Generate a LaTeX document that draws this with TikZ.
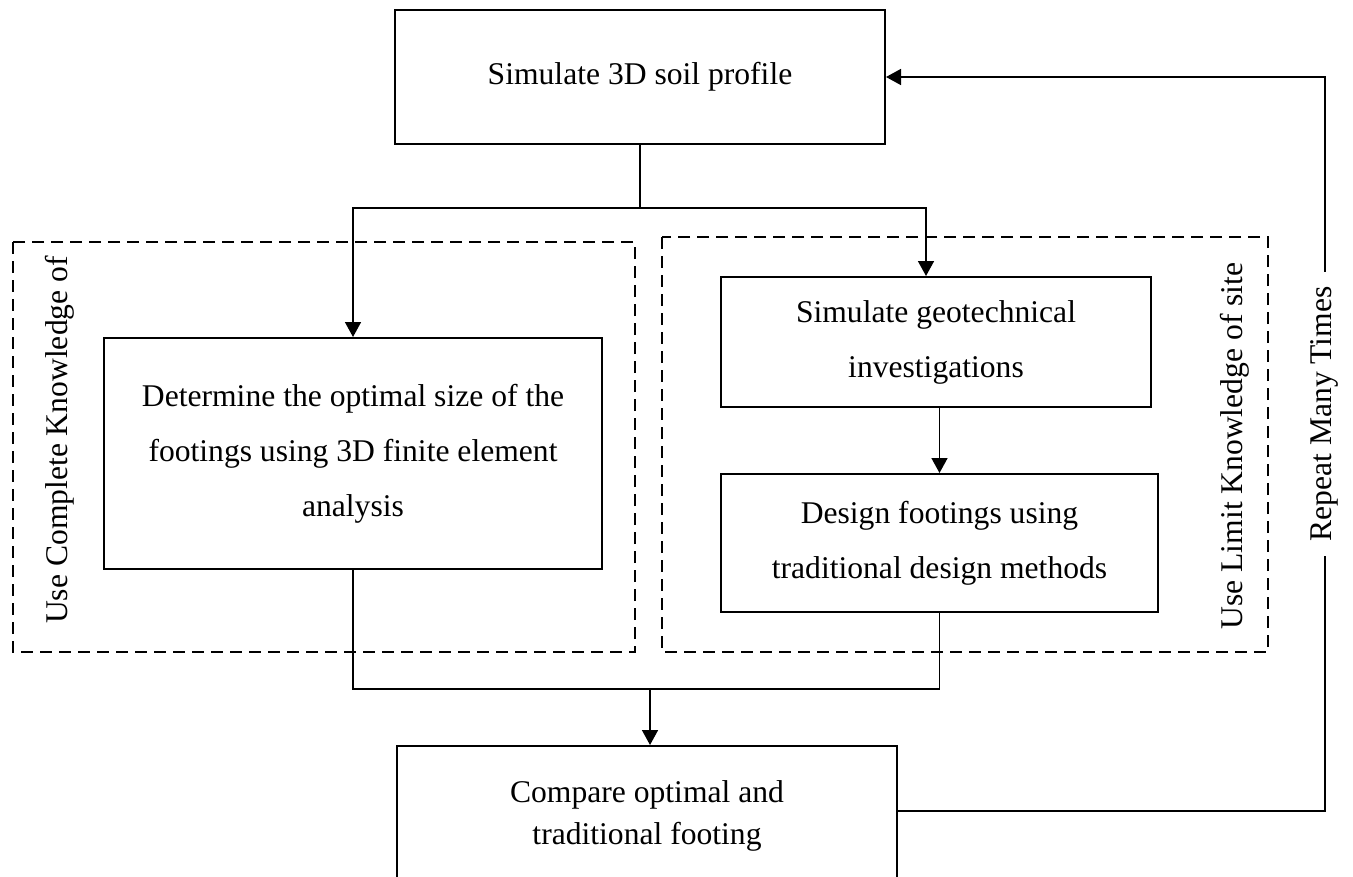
\documentclass[tikz,border=0pt]{standalone}
\usepackage{fontspec}
\setmainfont{Liberation Serif}
\usetikzlibrary{arrows.meta}
\begin{document}
\begin{tikzpicture}[x=0.5pt,y=-0.5pt,
  box/.style={draw,line width=1pt,align=center,inner sep=0pt,font=\fontsize{15.8}{27.5}\selectfont},
  conn/.style={line width=0.8pt},
  arr/.style={conn,-{Triangle[length=7.5pt,width=8pt]}},
  dbox/.style={draw,line width=0.9pt,dash pattern=on 6pt off 3.5pt},
  vlabel/.style={rotate=90,anchor=base,inner sep=0pt,font=\fontsize{15.8}{18}\selectfont}]
\useasboundingbox (0,0) rectangle (1353,877);
\clip (0,0) rectangle (1353,877);
% dashed groups
\draw[dbox] (13,242) rectangle (635,652);
\draw[dbox] (662,237) rectangle (1268,652);
% boxes
\node[box,minimum width=245pt,minimum height=67pt] (top) at (640,77) {Simulate 3D soil profile};
\node[box,minimum width=249pt,minimum height=115.5pt] (left) at (353,453.5) {Determine the optimal size of the\\footings using 3D finite element\\analysis};
\node[box,minimum width=215pt,minimum height=65pt] (ur) at (936,342) {Simulate geotechnical\\investigations};
\node[box,minimum width=218.5pt,minimum height=69pt] (lr) at (939.5,543) {Design footings using\\traditional design methods};
\node[box,minimum width=250pt,minimum height=70pt,font=\fontsize{15.8}{21}\selectfont] (cmp) at (647,816) {Compare optimal and\\traditional footing};
% group labels
\node[vlabel] (lblA) at (67,440) {Use Complete Knowledge of};
\node[vlabel] (lblB) at (1242,446) {Use Limit Knowledge of site};
% connectors
\coordinate (split) at (640,208);
\coordinate (rdrop) at (926,208);
\coordinate (merge) at (650,689);
\coordinate (fb) at (1325,811);
\draw[conn] (top.south) -- (split);
\draw[arr] (split) -| (left.north);
\draw[arr] (split) -- (rdrop) -- (rdrop |- ur.north);
\draw[arr] (lr.north |- ur.south) -- (lr.north);
\draw[conn] (left.south) |- (merge) -| (lr.south);
\draw[arr] (merge) -- (merge |- cmp.north);
\draw[arr] (cmp.east |- fb) -- (fb) |- (top.east);
\node[vlabel,fill=white,inner xsep=7pt,inner ysep=2pt] (rep) at (1331,414) {Repeat Many Times};
\end{tikzpicture}
\end{document}
